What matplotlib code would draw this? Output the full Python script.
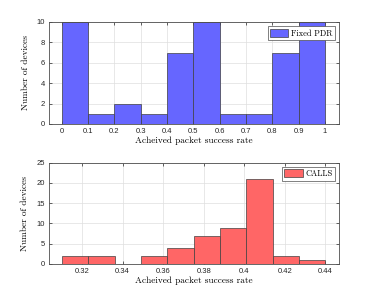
import numpy as np
import matplotlib
matplotlib.use("Agg")
import matplotlib.pyplot as plt

# fixed PDR histogram
fixed_edges = [0.0, 0.1, 0.2, 0.3, 0.4, 0.5, 0.6, 0.7, 0.8, 0.9, 1.0]
fixed_counts = [10, 1, 2, 1, 7, 10, 1, 1, 7, 10]
fixed_ticks = [0, 0.1, 0.2, 0.3, 0.4, 0.5, 0.6, 0.7, 0.8, 0.9, 1]

# CALLS histogram
calls_edges = [0.310, 0.323, 0.336, 0.349, 0.362, 0.375, 0.388, 0.401, 0.414, 0.427, 0.440]
calls_counts = [2, 2, 0, 2, 4, 7, 9, 21, 2, 1]
calls_ticks = [0.32, 0.34, 0.36, 0.38, 0.40, 0.42, 0.44]

W, H = 374, 296
fig = plt.figure(figsize=(W / 100, H / 100), dpi=100)

serif = 'cmr10'
tick_fs = 5.5
label_fs = 6.7
leg_fs = 6


def style(ax):
    ax.grid(True, color='0.87', linewidth=0.5)
    ax.set_axisbelow(True)
    for s in ax.spines.values():
        s.set_color('0.3')
        s.set_linewidth(0.6)
    ax.tick_params(direction='in', length=2.5, width=0.5, labelsize=tick_fs,
                   colors='0.15', top=True, right=True, pad=3)
    for lab in ax.get_xticklabels() + ax.get_yticklabels():
        lab.set_family('Liberation Sans')
    ax.set_ylabel('Number of devices', family=serif, fontsize=label_fs, labelpad=5)
    ax.set_xlabel('Acheived packet success rate', family=serif, fontsize=label_fs, labelpad=1)


def legend(ax):
    leg = ax.legend(loc='upper right', prop={'family': serif, 'size': leg_fs}, fancybox=False,
                    handlelength=2.2, handleheight=1.1, borderpad=0.3, handletextpad=0.3,
                    borderaxespad=0.5, framealpha=1)
    leg.get_frame().set_edgecolor('0.3')
    leg.get_frame().set_linewidth(0.5)


# top axes
ax1 = fig.add_axes([49 / W, 1 - 124 / H, 290 / W, 102 / H])
ax1.bar(fixed_edges[:-1], fixed_counts, width=np.diff(fixed_edges), align='edge',
        color=(0.4, 0.4, 1.0), edgecolor='0.25', linewidth=0.5, label='Fixed PDR')
ax1.set_xlim(-0.048, 1.053)
ax1.set_ylim(0, 10)
ax1.set_xticks(fixed_ticks)
ax1.set_xticklabels([f'{t:g}' for t in fixed_ticks])
ax1.set_yticks([0, 2, 4, 6, 8, 10])
style(ax1)
legend(ax1)

# bottom axes
ax2 = fig.add_axes([49 / W, 1 - 264 / H, 290 / W, 101.3 / H])
ax2.bar(calls_edges[:-1], calls_counts, width=np.diff(calls_edges), align='edge',
        color=(1.0, 0.4, 0.4), edgecolor='0.25', linewidth=0.5, label='CALLS')
ax2.set_xlim(0.3037, 0.4467)
ax2.set_ylim(0, 25)
ax2.set_xticks(calls_ticks)
ax2.set_xticklabels([f'{t:g}' for t in calls_ticks])
ax2.set_yticks([0, 5, 10, 15, 20, 25])
style(ax2)
legend(ax2)

fig.savefig('out.png', dpi=100)
